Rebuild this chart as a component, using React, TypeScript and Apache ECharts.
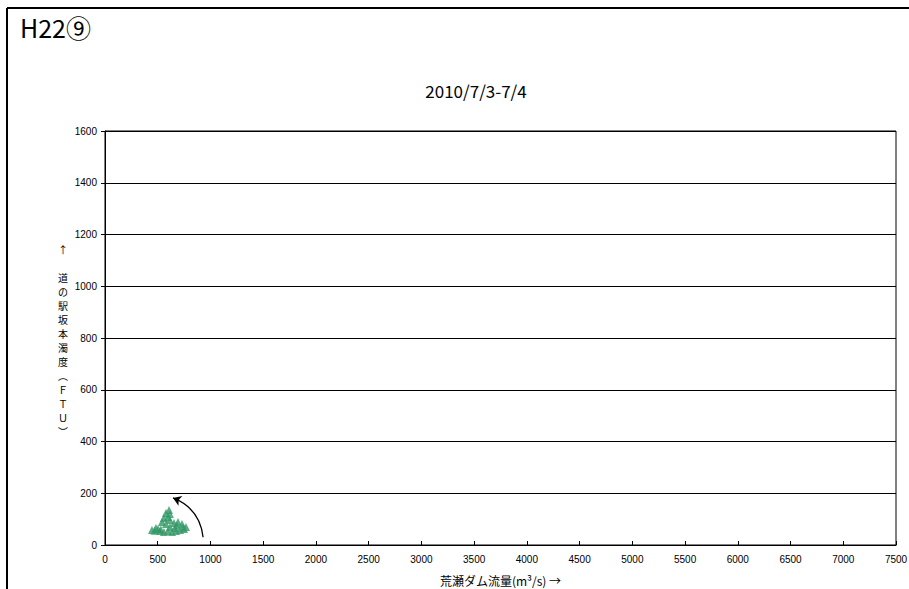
import React, { useEffect, useRef } from "react";
import * as echarts from "echarts";

const chartTitle = "H22⑨";
const subTitle = "2010/7/3-7/4";
const xAxisName = "荒瀬ダム流量(m³/s) →";
const yAxisChars = ["↑", "", "道", "の", "駅", "坂", "本", "濁", "度", "︵", "Ｆ", "Ｔ", "Ｕ", "︶"];

// [flow m3/s, turbidity FTU]
const flowValues = [445, 483, 521, 559, 597, 635, 673, 711, 749, 768, 730, 692, 654, 616, 597, 616, 607, 578, 559, 540, 578, 616, 664, 502, 470, 530, 680, 740];
const turbidityValues = [58, 66, 54, 50, 54, 50, 54, 58, 62, 70, 81, 89, 85, 97, 108, 120, 135, 124, 104, 89, 81, 70, 66, 62, 55, 60, 75, 68];

const arrowStart = [930, 30];
const arrowEnd = [645, 182];

const FONT = "'Liberation Sans Narrow', 'Liberation Sans', Arial, sans-serif";
const JP = "'Noto Sans CJK JP', sans-serif";

export default function App() {
  const ref = useRef<HTMLDivElement>(null);
  useEffect(() => {
    if (!ref.current) return;
    const chart = echarts.init(ref.current, null, { renderer: "svg", width: 909, height: 589 });
    const points = flowValues.map((v, i) => [v, turbidityValues[i]]);
    chart.setOption({
      animation: false,
      backgroundColor: "#ffffff",
      grid: {
        left: 105,
        right: 13,
        top: 131,
        bottom: 44,
        show: true,
        borderColor: "#000",
        borderWidth: 1,
        outerBoundsMode: "none",
        containLabel: false,
      },
      xAxis: {
        type: "value",
        min: 0,
        max: 7500,
        interval: 500,
        name: xAxisName,
        nameLocation: "middle",
        nameGap: 29,
        nameTextStyle: { fontFamily: JP, fontSize: 12, color: "#000" },
        axisLine: { lineStyle: { color: "#000", width: 1 } },
        axisTick: { inside: true, length: 4, lineStyle: { color: "#000" } },
        axisLabel: { fontFamily: FONT, fontSize: 10, color: "#000", margin: 9, formatter: (v: number) => String(v) },
        splitLine: { show: false },
      },
      yAxis: {
        type: "value",
        min: 0,
        max: 1600,
        interval: 200,
        axisLine: { show: true, lineStyle: { color: "#000", width: 1 } },
        axisTick: { show: true, inside: false, length: 4, lineStyle: { color: "#000" } },
        axisLabel: { fontFamily: FONT, fontSize: 10, color: "#000", margin: 8, formatter: (v: number) => String(v) },
        splitLine: { show: true, lineStyle: { color: "#000", width: 1 } },
      },
      graphic: [
        { type: "line", shape: { x1: 7, y1: 8, x2: 909, y2: 8 }, style: { stroke: "#000", lineWidth: 2 } },
        { type: "line", shape: { x1: 7, y1: 8, x2: 7, y2: 589 }, style: { stroke: "#000", lineWidth: 2 } },
        {
          type: "text",
          left: 20,
          top: 14,
          style: { text: chartTitle, fontFamily: "'Liberation Sans Narrow', 'Noto Sans CJK JP', sans-serif", fontSize: 25, fill: "#000" },
        },
        {
          type: "text",
          x: 476,
          y: 90,
          style: { text: subTitle, fontFamily: JP, fontSize: 17, fill: "#000", textAlign: "center", textVerticalAlign: "middle" },
        },
        {
          type: "text",
          x: 63,
          y: 242,
          style: {
            text: yAxisChars.join("\n"),
            fontFamily: JP,
            fontSize: 10,
            lineHeight: 14,
            fill: "#000",
            textAlign: "center",
          },
        },
      ],
      series: [
        {
          type: "scatter",
          data: points,
          symbol: "triangle",
          symbolSize: 8,
          itemStyle: { color: "#339966" },
        },
        {
          type: "lines",
          coordinateSystem: "cartesian2d",
          data: [{ coords: [arrowStart, arrowEnd] }],
          symbol: ["none", "arrow"],
          symbolSize: 8,
          lineStyle: { color: "#000", width: 1.3, opacity: 1, curveness: -0.3 },
          silent: true,
        },
      ],
    });
    return () => chart.dispose();
  }, []);
  return <div ref={ref} style={{ position: "fixed", left: 0, top: 0, width: 909, height: 589 }} />;
}
